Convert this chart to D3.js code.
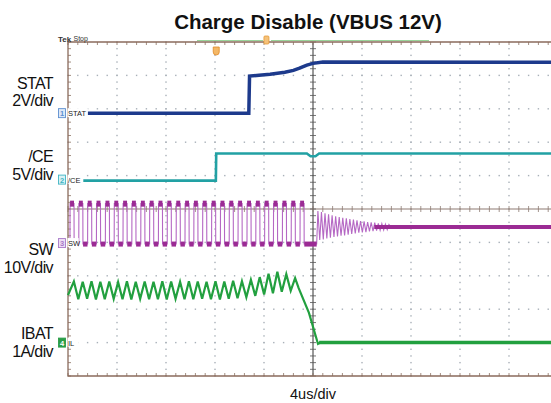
<!DOCTYPE html>
<html>
<head>
<meta charset="utf-8">
<script src="https://cdn.jsdelivr.net/npm/d3@7"></script>
<style>
body { margin: 0; background: #fff; }
svg text { font-family: Arial, "Liberation Sans", sans-serif; }
</style>
</head>
<body>
<div id="chart"></div>
<script>
// time in us (4us/div, trigger at 0), values in channel units
var statPts = [[-20, 0], [-5.24, 0], [-5.18, 2.22], [-4.4, 2.27], [-3.5, 2.33], [-2.3, 2.45],
    [-1.6, 2.56], [-1.1, 2.69], [-0.5, 2.88], [0, 2.98], [0.8, 3.06], [20, 3.05]];
var cePts = [[-20, -0.15], [-7.93, -0.15], [-7.9, 3.9], [-0.5, 3.9], [-0.2, 3.5], [0.2, 3.5],
    [0.5, 3.9], [20, 3.9]];

var swPulseT = [-19.67, -18.95, -18.23, -17.51, -16.78, -16.06, -15.34, -14.62, -13.89, -13.17,
    -12.45, -11.73, -11.00, -10.28, -9.56, -8.84, -8.11, -7.39, -6.67, -5.95, -5.22, -4.50,
    -3.78, -3.06, -2.33, -1.61, -0.89];
var swHigh = 11.8, swLow = -0.3, swSettle = 4.8;
var swRingT = [0.30, 0.40, 0.55, 0.69, 0.84, 0.98, 1.13, 1.27, 1.42, 1.56, 1.71, 1.85, 2.00, 2.14,
    2.29, 2.43, 2.58, 2.72, 2.87, 3.01, 3.16, 3.30, 3.45, 3.59, 3.74, 3.88, 4.03, 4.17, 4.32,
    4.46, 4.61, 4.75, 4.90, 5.04, 5.19, 5.33, 5.48, 5.62, 5.77, 5.91, 6.06, 6.20];
var swRingV = [-0.3, 9.6, 0.9, 9.3, 1.1, 8.9, 1.4, 8.6, 1.6, 8.3, 1.8, 8.0, 2.0, 7.8, 2.2, 7.6,
    2.3, 7.4, 2.5, 7.2, 2.7, 7.0, 2.9, 6.8, 3.1, 6.6, 3.2, 6.5, 3.3, 6.3, 3.5, 6.2, 3.6, 6.1,
    3.7, 5.9, 3.8, 5.8, 3.9, 5.7, 4.0, 5.6];

var ibatPeakT = [-19.52, -18.80, -18.08, -17.36, -16.63, -15.91, -15.19, -14.47, -13.74, -13.02,
    -12.30, -11.58, -10.85, -10.13, -9.41, -8.69, -7.96, -7.24, -6.52, -5.80, -5.07, -4.35,
    -3.63, -2.91, -2.18, -1.46];
var ibatPeakA = [1.83, 1.82, 1.84, 1.82, 1.83, 1.81, 1.84, 1.82, 1.83, 1.82, 1.84, 1.83, 1.82,
    1.84, 1.83, 1.82, 1.84, 1.83, 1.85, 1.84, 1.88, 1.96, 2.06, 2.12, 2.05, 1.93];
var ibatTroughT = [-19.16, -18.44, -17.72, -17.00, -16.27, -15.55, -14.83, -14.11, -13.38,
    -12.66, -11.94, -11.22, -10.49, -9.77, -9.05, -8.33, -7.60, -6.88, -6.16, -5.44, -4.71,
    -3.99, -3.27, -2.55, -1.82];
var ibatTroughA = [1.30, 1.31, 1.29, 1.30, 1.31, 1.30, 1.29, 1.31, 1.30, 1.30, 1.29, 1.31, 1.30,
    1.30, 1.31, 1.30, 1.29, 1.31, 1.33, 1.36, 1.40, 1.44, 1.48, 1.52, 1.55];
var ibatStart = [-20, 1.42];
var ibatFall = [[-1.17, 1.63], [-0.33, 0.89], [0.41, -0.04], [0.6, 0], [20, 0]];

var channels = [
    {id: 1, name: "STAT", label: ["STAT", "2V/div"], perDiv: 2, offset: 2.87, color: "#1d3a8c", tag: "#5d8fd0", tagFill: "#dde9f8"},
    {id: 2, name: "/CE", label: ["/CE", "5V/div"], perDiv: 5, offset: 0.88, color: "#22a1a4", tag: "#3fb4c4", tagFill: "#daf2f5"},
    {id: 3, name: "SW", label: ["SW", "10V/div"], perDiv: 10, offset: -1.02, color: "#9b2b94", tag: "#a878c8", tagFill: "#ecdff4"},
    {id: 4, name: "IL", label: ["IBAT", "1A/div"], perDiv: 1, offset: -4.0, color: "#22a03f", tag: "#2a9d48", tagFill: "#2a9d48"}
];

var W = 551, H = 403;
var plot = {left: 68, right: 558, top: 42, bottom: 376};

var x = d3.scaleLinear().domain([-20, 20]).range([plot.left, plot.right]);
var yDiv = d3.scaleLinear().domain([-5, 5]).range([plot.bottom, plot.top]);
function chY(ch) { return function(v) { return yDiv(ch.offset + v / ch.perDiv); }; }

var svg = d3.select("#chart").append("svg")
    .attr("width", W).attr("height", H)
    .style("background", "#fff");

// title
svg.append("text").attr("x", 308).attr("y", 29)
    .attr("text-anchor", "middle").attr("font-size", 20.5).attr("font-weight", "bold")
    .attr("fill", "#111").text("Charge Disable (VBUS 12V)");

// ---- graticule ----
var grid = svg.append("g");
for (var i = -4; i <= 4; i++) {
    if (i == 0) continue;
    for (var j = 0; j <= 50; j++) {
        grid.append("rect").attr("x", x(-20 + j * 0.8) - 0.7).attr("y", yDiv(i) - 0.7)
            .attr("width", 1.4).attr("height", 1.4).attr("fill", "#a8b0b8");
    }
}
for (var k = -4; k <= 4; k++) {
    if (k == 0) continue;
    for (var m = 0; m <= 50; m++) {
        grid.append("rect").attr("x", x(k * 4) - 0.7).attr("y", yDiv(-5 + m * 0.2) - 0.7)
            .attr("width", 1.4).attr("height", 1.4).attr("fill", "#a8b0b8");
    }
}
// centre cross with minor ticks
grid.append("line").attr("x1", plot.left).attr("x2", W).attr("y1", yDiv(0)).attr("y2", yDiv(0))
    .attr("stroke", "#8d7b72").attr("stroke-width", 1.2);
grid.append("line").attr("x1", x(0)).attr("x2", x(0)).attr("y1", plot.top).attr("y2", plot.bottom)
    .attr("stroke", "#555").attr("stroke-width", 1.2);
for (var n = 0; n <= 50; n++) {
    var ty = yDiv(-5 + n * 0.2), tx = x(-20 + n * 0.8);
    grid.append("line").attr("x1", x(0) - 3).attr("x2", x(0) + 3).attr("y1", ty).attr("y2", ty)
        .attr("stroke", "#555").attr("stroke-width", 0.8);
    grid.append("line").attr("x1", tx).attr("x2", tx).attr("y1", yDiv(0) - 3).attr("y2", yDiv(0) + 3)
        .attr("stroke", "#8d7b72").attr("stroke-width", 0.8);
    // frame ticks
    grid.append("line").attr("x1", plot.left).attr("x2", plot.left + 3).attr("y1", ty).attr("y2", ty)
        .attr("stroke", "#8a7060").attr("stroke-width", 0.8);
    grid.append("line").attr("x1", tx).attr("x2", tx).attr("y1", plot.top).attr("y2", plot.top + 3)
        .attr("stroke", "#8a7060").attr("stroke-width", 0.8);
    grid.append("line").attr("x1", tx).attr("x2", tx).attr("y1", plot.bottom - 3).attr("y2", plot.bottom)
        .attr("stroke", "#8a7060").attr("stroke-width", 0.8);
}
// frame
grid.append("path")
    .attr("d", "M" + W + "," + plot.top + "H" + plot.left + "V" + plot.bottom + "H" + W)
    .attr("fill", "none").attr("stroke", "#8a6b5c").attr("stroke-width", 1.3);

// top bar: Tek Stop, trigger markers
svg.append("text").attr("x", 58).attr("y", 41.5).attr("font-size", 8).attr("font-weight", "bold")
    .attr("fill", "#333").text("Tek");
svg.append("text").attr("x", 73.5).attr("y", 41).attr("font-size", 7)
    .attr("fill", "#333").text("Stop");
svg.append("line").attr("x1", 197).attr("x2", 263).attr("y1", 40.5).attr("y2", 40.5)
    .attr("stroke", "#9ad49a").attr("stroke-width", 1);
svg.append("line").attr("x1", 271).attr("x2", 429).attr("y1", 40.5).attr("y2", 40.5)
    .attr("stroke", "#9ad49a").attr("stroke-width", 1);
svg.append("rect").attr("x", x(-3.8) - 2.5).attr("y", 36).attr("width", 5).attr("height", 8)
    .attr("rx", 1).attr("fill", "#f5c27a").attr("stroke", "#e59a3a").attr("stroke-width", 0.8);
svg.append("path")
    .attr("d", "M" + (x(-7.9) - 3) + ",47 h6 v5 a3,3 0 0 1 -6,0 z")
    .attr("fill", "#f4b867").attr("stroke", "#e08a2a").attr("stroke-width", 0.8);

// ---- traces ----
var line = d3.line();

// STAT
var chStat = channels[0], yStat = chY(chStat);
svg.append("path")
    .attr("d", line(statPts.map(function(d) { return [x(d[0]), yStat(d[1])]; })))
    .attr("fill", "none").attr("stroke", chStat.color).attr("stroke-width", 3.5);

// /CE
var chCe = channels[1], yCe = chY(chCe);
svg.append("path")
    .attr("d", line(cePts.map(function(d) { return [x(d[0]), yCe(d[1])]; })))
    .attr("fill", "none").attr("stroke", chCe.color).attr("stroke-width", 2.6);

// SW
var chSw = channels[2], ySw = chY(chSw);
var half = 0.16;
var swPts = [[-20, swLow]];
swPulseT.forEach(function(t) {
    swPts.push([t - half - 0.01, swLow], [t - half, swHigh], [t + half, swHigh], [t + half + 0.01, swLow]);
});
swRingT.forEach(function(t, i) { swPts.push([t, swRingV[i]]); });
swPts.push([6.35, swSettle], [20, swSettle]);
svg.append("path")
    .attr("d", line(swPts.map(function(d) { return [x(d[0]), ySw(d[1])]; })))
    .attr("fill", "none").attr("stroke", "#b568c4").attr("stroke-width", 1.1);
// bright flat parts of the switching waveform
var swLows = [];
var prev = -20;
swPulseT.forEach(function(t) { swLows.push([prev, t - half - 0.02]); prev = t + half + 0.02; });
swLows.push([prev, 0.3]);
svg.append("g").selectAll("line").data(swLows).enter().append("line")
    .attr("x1", function(d) { return x(d[0]); }).attr("x2", function(d) { return x(d[1]); })
    .attr("y1", ySw(swLow)).attr("y2", ySw(swLow))
    .attr("stroke", chSw.color).attr("stroke-width", 5);
svg.append("g").selectAll("line").data(swPulseT).enter().append("line")
    .attr("x1", function(d) { return x(d - half); }).attr("x2", function(d) { return x(d + half); })
    .attr("y1", ySw(swHigh)).attr("y2", ySw(swHigh))
    .attr("stroke", chSw.color).attr("stroke-width", 6);
svg.append("line").attr("x1", x(5.0)).attr("x2", W)
    .attr("y1", ySw(swSettle)).attr("y2", ySw(swSettle))
    .attr("stroke", chSw.color).attr("stroke-width", 4);

// IBAT
var chI = channels[3], yI = chY(chI);
var iPts = [ibatStart];
ibatPeakT.forEach(function(t, i) {
    iPts.push([t, ibatPeakA[i]]);
    if (i < ibatTroughT.length) iPts.push([ibatTroughT[i], ibatTroughA[i]]);
});
iPts = iPts.concat(ibatFall);
svg.append("path")
    .attr("d", line(iPts.map(function(d) { return [x(d[0]), yI(d[1])]; })))
    .attr("fill", "none").attr("stroke", chI.color).attr("stroke-width", 2.2);
svg.append("line").attr("x1", x(0.5)).attr("x2", W).attr("y1", yI(0)).attr("y2", yI(0))
    .attr("stroke", chI.color).attr("stroke-width", 3.5);

// ---- channel tags and side labels ----
channels.forEach(function(ch) {
    var gy = yDiv(ch.offset);
    var g = svg.append("g");
    var tw = ch.name.length * 4.6 + 2;
    g.append("rect").attr("x", 67.5).attr("y", gy - 5).attr("width", tw).attr("height", 9).attr("fill", "#fff");
    g.append("rect").attr("x", 58.5).attr("y", gy - 4.5).attr("width", 7).attr("height", 9)
        .attr("fill", ch.tagFill).attr("stroke", ch.tag).attr("stroke-width", 0.9);
    g.append("text").attr("x", 62).attr("y", gy + 3).attr("text-anchor", "middle")
        .attr("font-size", 7.5).attr("font-weight", "bold")
        .attr("fill", ch.id == 4 ? "#fff" : ch.tag).text(ch.id);
    g.append("text").attr("x", 68).attr("y", gy + 3).attr("font-size", 7.5)
        .attr("fill", "#222").text(ch.name);
});

var sideY = [[89, 106], [162, 180], [255, 273], [339, 357]];
channels.forEach(function(ch, i) {
    ch.label.forEach(function(s, j) {
        svg.append("text").attr("x", 53).attr("y", sideY[i][j]).attr("text-anchor", "end")
            .attr("font-size", 16).attr("letter-spacing", -0.6).attr("fill", "#111").text(s);
    });
});

svg.append("text").attr("x", 313).attr("y", 399).attr("text-anchor", "middle")
    .attr("font-size", 14.5).attr("fill", "#111").text("4us/div");
</script>
</body>
</html>
